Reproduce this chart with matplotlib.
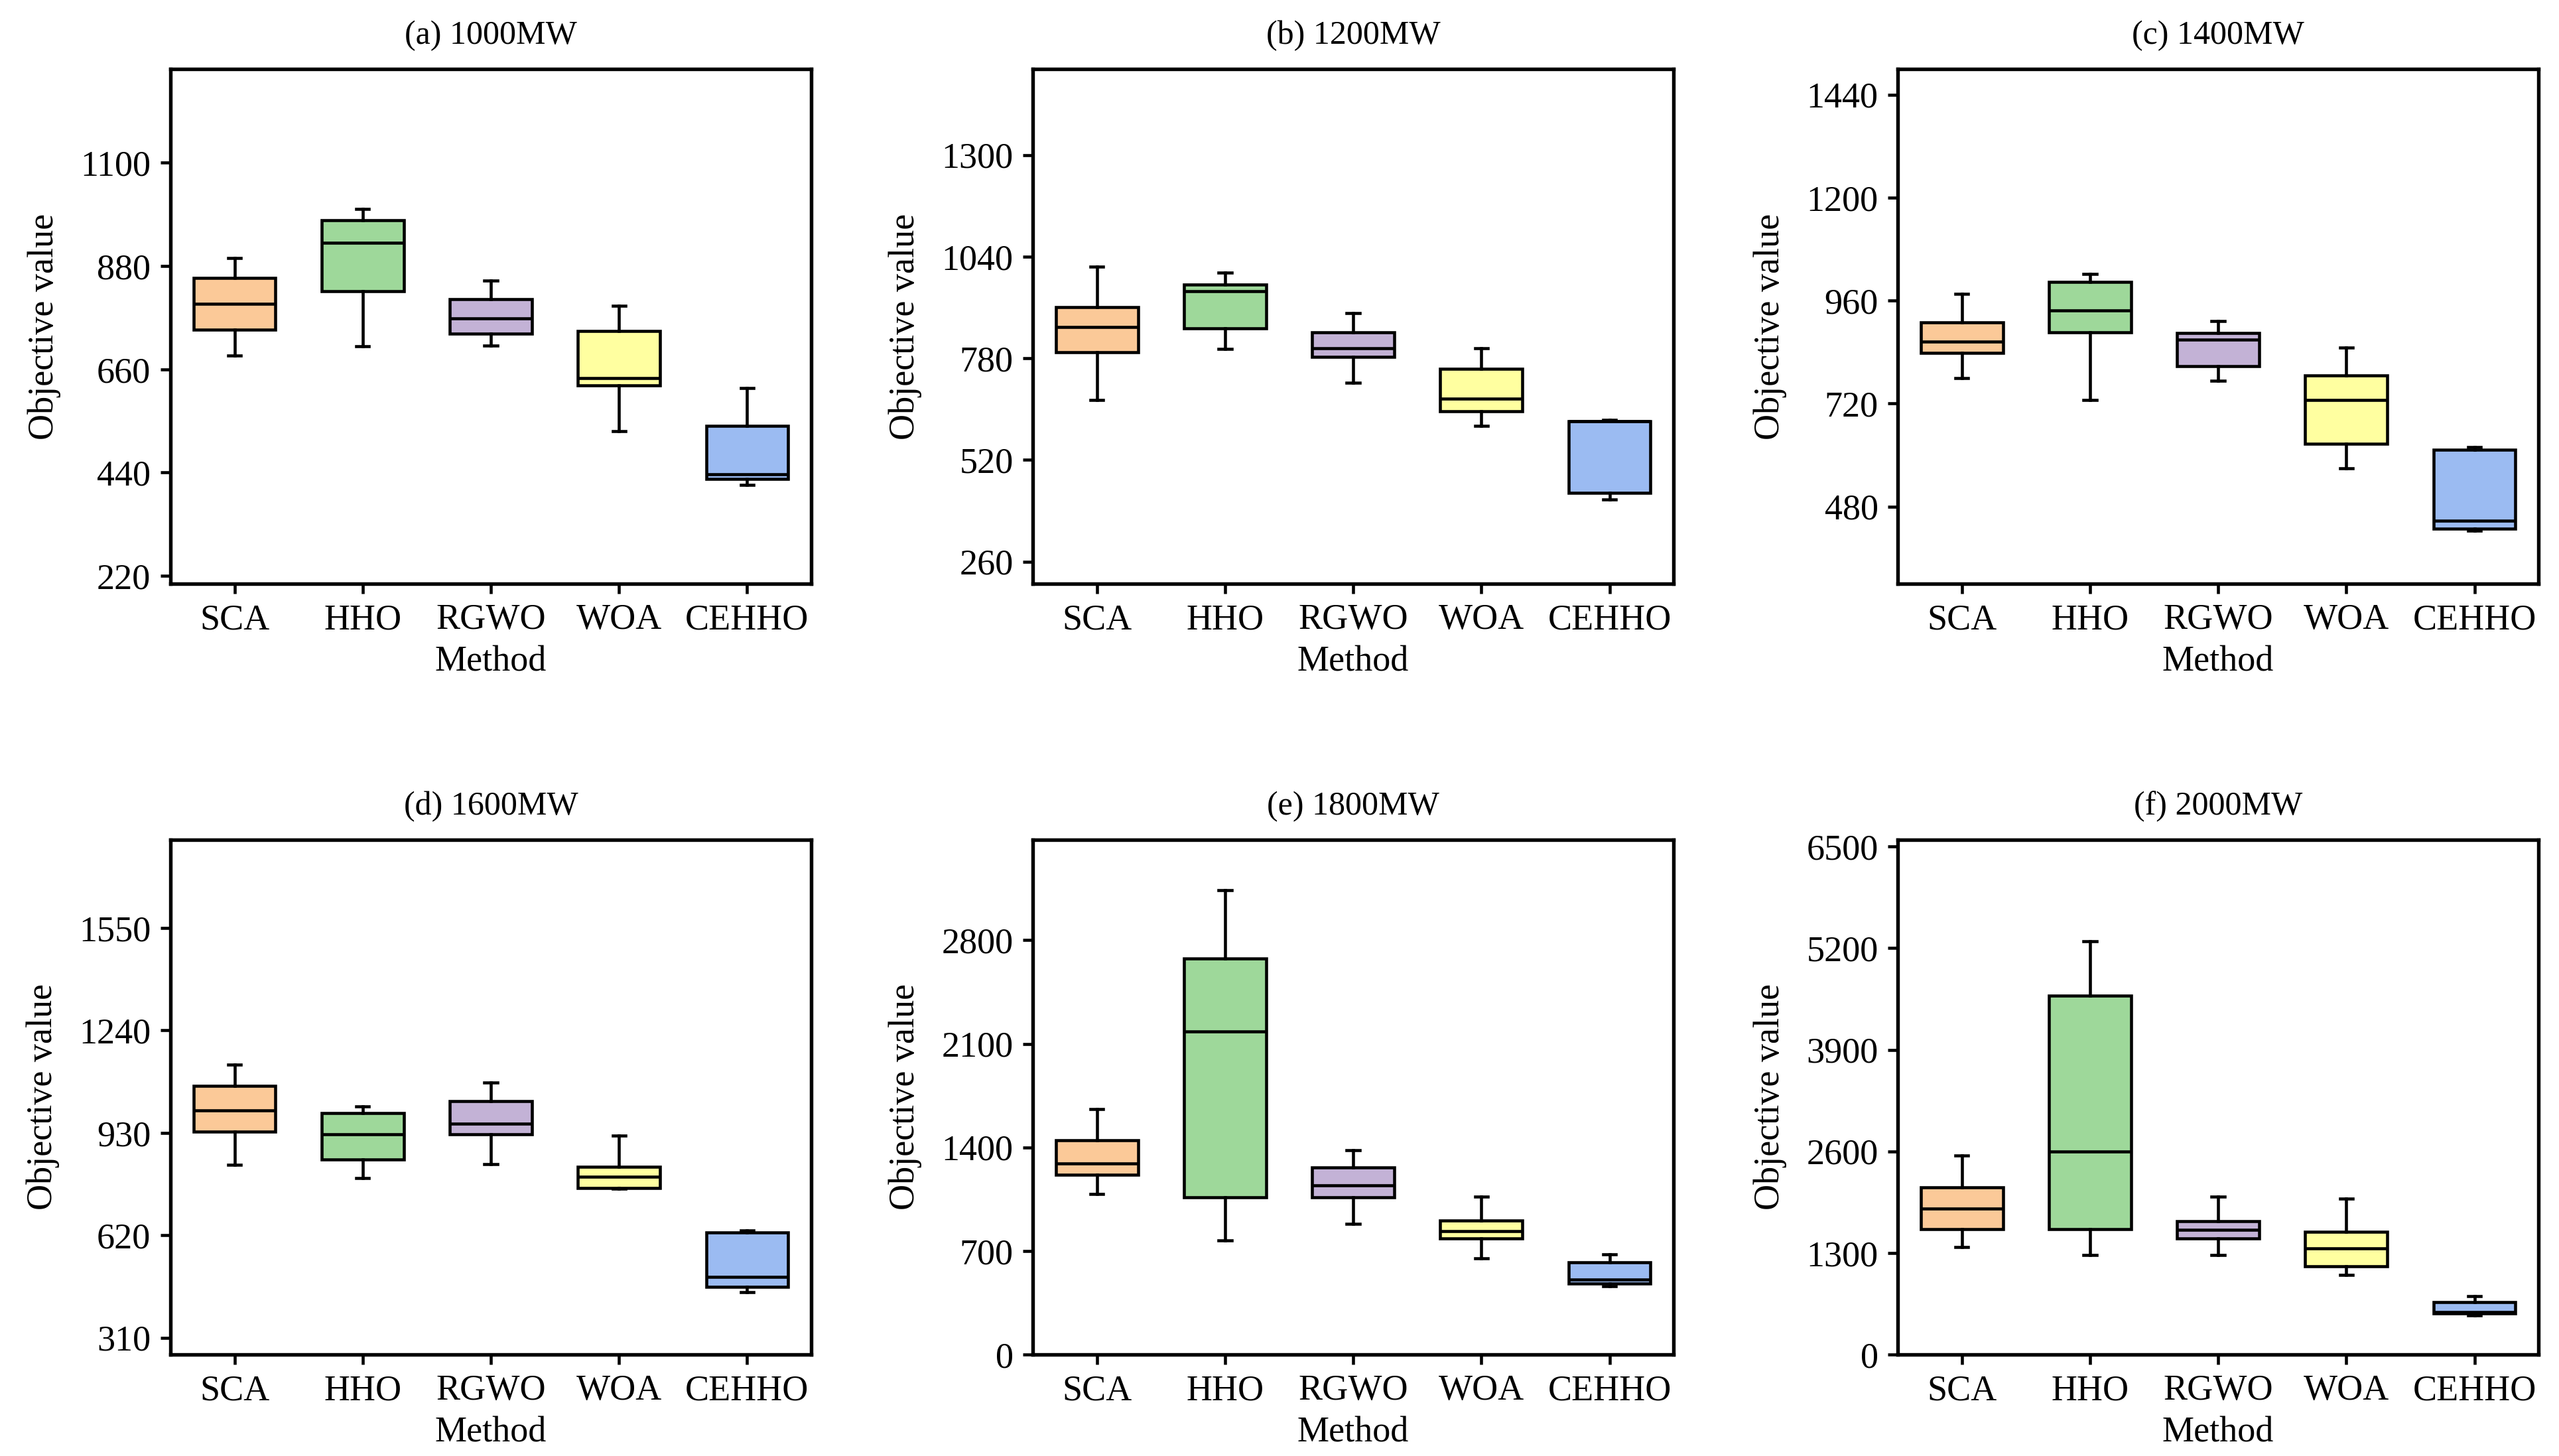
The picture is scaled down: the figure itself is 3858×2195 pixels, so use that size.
import matplotlib
matplotlib.use("Agg")
import matplotlib.pyplot as plt

plt.rcParams['font.family'] = ['Liberation Serif', 'DejaVu Serif']
plt.rcParams['font.size'] = 13

methods = ['SCA', 'HHO', 'RGWO', 'WOA', 'CEHHO']
colors = ['#FBC998', '#9ED89A', '#C3B2D6', '#FFFFA0', '#9BBBF2']

titles = ['(a) 1000MW', '(b) 1200MW', '(c) 1400MW',
          '(d) 1600MW', '(e) 1800MW', '(f) 2000MW']

# per panel, per method: [whisker low, q1, median, q3, whisker high]
box_1000 = [[690, 744, 800, 854, 897],
            [709, 826, 929, 978, 1002],
            [711, 736, 769, 810, 849],
            [528, 626, 641, 742, 796],
            [414, 427, 436, 539, 620]]
box_1200 = [[673, 795, 860, 910, 1014],
            [803, 857, 951, 969, 999],
            [717, 783, 805, 846, 895],
            [607, 645, 677, 753, 806],
            [419, 436, 619, 619, 622]]
box_1400 = [[780, 838, 865, 910, 976],
            [728, 886, 937, 1003, 1022],
            [773, 808, 869, 884, 913],
            [570, 626, 728, 785, 850],
            [424, 428, 447, 613, 618]]
box_1600 = [[833, 933, 997, 1072, 1137],
            [793, 850, 926, 989, 1011],
            [835, 925, 958, 1027, 1083],
            [761, 764, 798, 828, 922],
            [448, 463, 493, 629, 635]]
box_1800 = [[1085, 1217, 1292, 1448, 1658],
            [770, 1064, 2183, 2674, 3139],
            [881, 1064, 1145, 1262, 1379],
            [651, 786, 833, 906, 1067],
            [462, 480, 507, 621, 677]]
box_2000 = [[1374, 1607, 1868, 2135, 2543],
            [1277, 1601, 2594, 4593, 5285],
            [1272, 1482, 1595, 1709, 2021],
            [1022, 1130, 1357, 1573, 1993],
            [500, 528, 545, 670, 744]]

yticks = [[220, 440, 660, 880, 1100],
          [260, 520, 780, 1040, 1300],
          [480, 720, 960, 1200, 1440],
          [310, 620, 930, 1240, 1550],
          [0, 700, 1400, 2100, 2800],
          [0, 1300, 2600, 3900, 5200, 6500]]
ylims = [(203, 1300), (203, 1520), (300, 1500),
         (259, 1818), (0, 3480), (0, 6590)]

all_boxes = [box_1000, box_1200, box_1400, box_1600, box_1800, box_2000]

fig = plt.figure(figsize=(3858 / 300, 2195 / 300), dpi=300)
lefts = [0.0666, 0.4036, 0.7416]
bottoms = [0.599, 0.0697]
w, h = 0.2504, 0.3537

for k in range(6):
    r, c = divmod(k, 3)
    ax = fig.add_axes([lefts[c], bottoms[r], w, h])
    stats = []
    for name, b in zip(methods, all_boxes[k]):
        stats.append(dict(label=name, whislo=b[0], q1=b[1], med=b[2],
                          q3=b[3], whishi=b[4], fliers=[]))
    bp = ax.bxp(stats, positions=range(1, 6), widths=0.64, patch_artist=True,
                showfliers=False, capwidths=0.1,
                boxprops=dict(linewidth=1.1, edgecolor='black'),
                medianprops=dict(color='black', linewidth=1.1),
                whiskerprops=dict(color='black', linewidth=1.1),
                capprops=dict(color='black', linewidth=1.1))
    for patch, col in zip(bp['boxes'], colors):
        patch.set_facecolor(col)
    ax.set_xlim(0.5, 5.5)
    ax.set_ylim(*ylims[k])
    ax.set_yticks(yticks[k])
    ax.set_xticks(range(1, 6))
    ax.set_xticklabels(methods)
    ax.tick_params(direction='out', length=3.6, width=1.1, labelsize=13)
    for s in ax.spines.values():
        s.set_linewidth(1.3)
    ax.set_title(titles[k], fontsize=12, pad=9)
    ax.set_xlabel('Method', fontsize=13, labelpad=3)
    ax.set_ylabel('Objective value', fontsize=13, labelpad=7)

fig.savefig('out.png', dpi=300)
